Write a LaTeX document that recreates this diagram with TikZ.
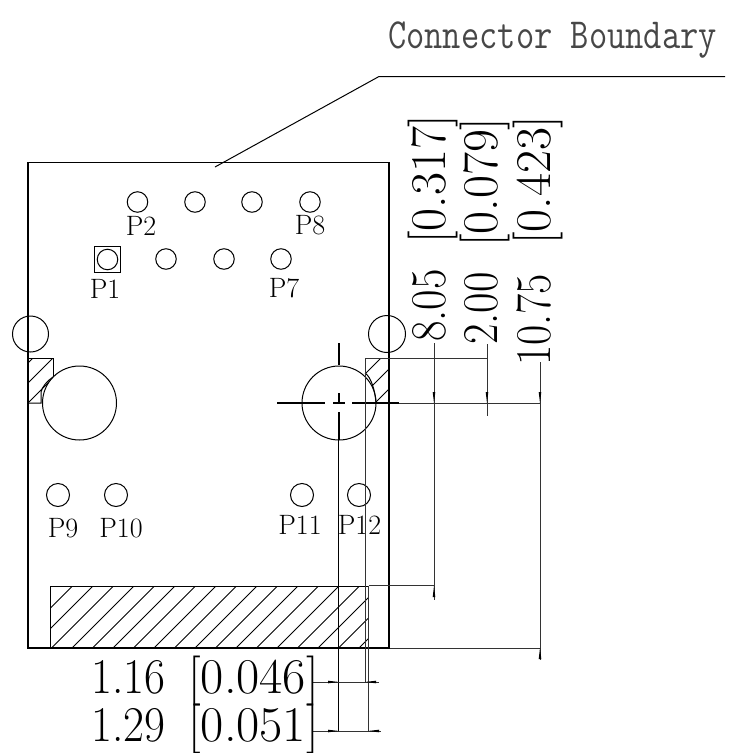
\documentclass[tikz,border=0pt]{standalone}
\usepackage{graphicx}
\tikzset{
  pinlabel/.style={inner sep=0pt,font=\fontsize{28}{28}\selectfont},
  dimtext/.style={inner sep=0pt,anchor=base west,font=\fontsize{50}{50}\selectfont},
  pincircle/.style={circle,draw=black,line width=1pt,inner sep=0pt,minimum size=#1},
  outline/.style={line width=1.2pt},
  crossmark/.style={line width=1.5pt},
  thin line/.style={line width=1pt},
  ext/.style={line width=1pt,black!80},
  hatchline/.style={line width=0.9pt}
}
\newcommand{\tipdown}[2]{\fill (#1,#2) -- (#1-1.3,#2-11) -- (#1+1.3,#2-11) -- cycle;}
\newcommand{\tipup}[2]{\fill (#1,#2) -- (#1-1.3,#2+11) -- (#1+1.3,#2+11) -- cycle;}
\newcommand{\tipright}[2]{\fill (#1,#2) -- (#1-11,#2-1.3) -- (#1-11,#2+1.3) -- cycle;}
\newcommand{\tipleft}[2]{\fill (#1,#2) -- (#1+11,#2-1.3) -- (#1+11,#2+1.3) -- cycle;}
\begin{document}
\begin{tikzpicture}[x=1pt,y=-1pt]
\useasboundingbox (0,0) rectangle (731,753);
% title and leader
\node[inner sep=0pt,anchor=base west,text=black!72,font=\ttfamily\fontsize{34.6}{34.6}\selectfont] (title) at (388,48) {\scalebox{1.025}[1.24]{Connector Boundary}};
\coordinate (lead0) at (215,167);
\coordinate (lead1) at (379,76.5);
\coordinate (lead2) at (725,76.5);
\draw[thin line] (lead0) -- (lead1) -- (lead2);
% bottom hatch
\begin{scope}
\clip (50,586) rectangle (368,648);
\foreach \k in {0,...,17} {
  \draw[hatchline] ({359-20.5*\k},648) -- ({359-20.5*\k+62},586);
}
\end{scope}
\draw[thin line] (50,586) rectangle (368,648);
% left hatch
\begin{scope}
\clip (28,358) rectangle (53,403);
\foreach \s in {391,411,431} { \draw[hatchline] (28,\s-28) -- (\s-28,28); }
\end{scope}
% right hatch
\begin{scope}
\clip (365,358) rectangle (389,403);
\foreach \s in {739,758,778} { \draw[hatchline] (340,\s-340) -- (\s-340,340); }
\end{scope}
\node[pincircle=74pt,fill=white] (bigL) at (79.5,403) {};
\node[pincircle=74pt,fill=white] (bigR) at (339,403) {};
% hatch outlines
\draw[thin line] (28,358) -- (53,358) -- (53,377);
\draw[thin line] (53,377) .. controls (47,381) and (42,387) .. (41,392) -- (41,403) -- (28,403);
\draw[thin line] (365,358) -- (389,358);
\draw[thin line] (365,373) .. controls (371,377) and (375,390) .. (376,403);
% body
\draw[outline] (28,162.5) rectangle (389,648);
% small side circles
\node[pincircle=36pt] (sideL) at (30.5,334) {};
\node[pincircle=37pt] (sideR) at (387,334) {};
% pins
\foreach \n/\x/\y in {a/137.5/202,b/195/202,c/252/202,d/310/202,e/166/259,f/224/259,g/281/259,h/107.5/259.5}
  \node[pincircle=20.5pt] (pin\n) at (\x,\y) {};
\foreach \n/\x in {i/58,j/116,k/302,l/359}
  \node[pincircle=23pt] (pin\n) at (\x,495) {};
\node[draw=black,line width=0.9pt,minimum size=26pt,inner sep=0pt] (pinbox) at (107,259.5) {};
% pin labels
\node[pinlabel] (lp2) at (141,226) {P2};
\node[pinlabel] (lp8) at (310,225) {P8};
\node[pinlabel] (lp1) at (105,289) {P1};
\node[pinlabel] (lp7) at (284,288) {P7};
\node[pinlabel] (lp9) at (63,528) {P9};
\node[pinlabel] (lp10) at (121,528) {P10};
\node[pinlabel] (lp11) at (300,525) {P11};
\node[pinlabel] (lp12) at (359.5,525) {P12};
% centre mark
\draw[crossmark] (277,403) -- (325,403) (333,403) -- (345,403) (352,403) -- (399,403);
\draw[crossmark] (339,343) -- (339,365) (339,393) -- (339,403) (339,412) -- (339,440);
\draw[thin line] (338.7,440) -- (338.7,732);
% extension and dimension lines
\draw[ext] (399,403.5) -- (541,403.5);
\draw[ext] (365,358) -- (488,358);
\draw[ext] (369,585.5) -- (435,585.5);
\draw[ext] (390,648) -- (541,648);
\draw[ext] (434,343) -- (434,600);
\draw[ext] (487,344) -- (487,416);
\draw[ext] (540,362) -- (540,660);
\draw[ext] (365,358) -- (365,683);
\draw[ext] (368,586) -- (368,731);
\draw[ext] (313,682) -- (379,682);
\draw[ext] (313,731) -- (381,731);
\tipdown{434}{403}\tipup{434}{586}
\tipdown{487}{403}
\tipdown{540}{403}\tipup{540}{648}
\tipright{339}{682}\tipleft{365}{682}
\tipright{339}{731}\tipleft{368}{731}
% bottom dimension text
\node[dimtext] (d1) at (91,693) {\scalebox{0.91}[1]{1.16}};
\node[dimtext] (d1b) at (188,693) {\scalebox{1.01}[1]{[0.046]}};
\node[dimtext] (d2) at (91,741.5) {\scalebox{0.91}[1]{1.29}};
\node[dimtext] (d2b) at (188,741.5) {\scalebox{1.01}[1]{[0.051]}};
% vertical dimension text
\node[dimtext,rotate=90] (v1) at (445,342) {\scalebox{0.89}[1]{8.05}};
\node[dimtext,rotate=90] (v1b) at (445,244) {\scalebox{1}[1]{[0.317]}};
\node[dimtext,rotate=90] (v2) at (497,345) {\scalebox{0.89}[1]{2.00}};
\node[dimtext,rotate=90] (v2b) at (497,247) {\scalebox{1}[1]{[0.079]}};
\node[dimtext,rotate=90] (v3) at (550,366) {\scalebox{0.88}[1]{10.75}};
\node[dimtext,rotate=90] (v3b) at (550,245) {\scalebox{1}[1]{[0.423]}};
\end{tikzpicture}
\end{document}
